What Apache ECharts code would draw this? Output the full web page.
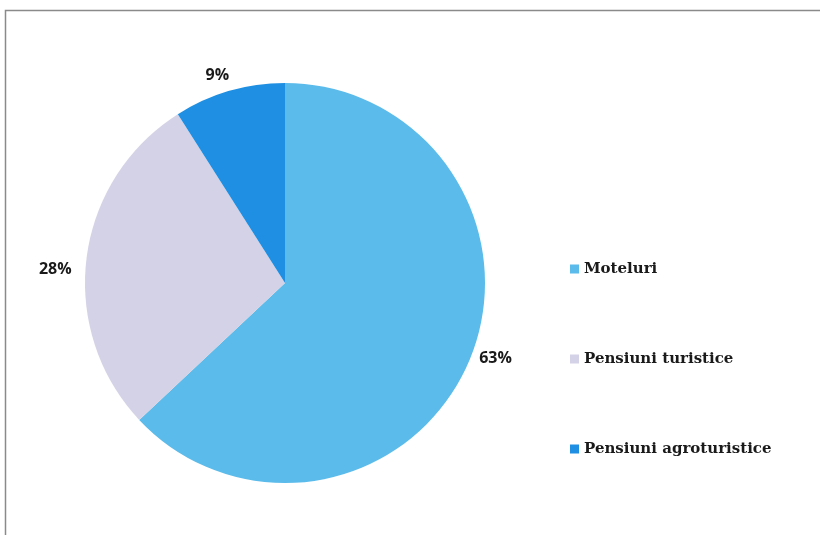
<!DOCTYPE html>
<html><head><meta charset="utf-8">
<script src="https://cdn.jsdelivr.net/npm/echarts@6/dist/echarts.min.js"></script>
<style>html,body{margin:0;padding:0;background:#fff}#c{width:820px;height:535px}</style>
</head><body><div id="c"></div>
<script>
const categories = ['Moteluri', 'Pensiuni turistice', 'Pensiuni agroturistice'];
const values = [63, 28, 9];
const colors = ['#5BBBEA', '#D4D2E6', '#1E8FE2'];
const labelOffsets = [[-2, -6], [-2, 12], [10, -12]];

const chart = echarts.init(document.getElementById('c'));
chart.setOption({
  animation: false,
  backgroundColor: '#fff',
  graphic: [{
    type: 'rect', shape: {x: 5.5, y: 10.5, width: 900, height: 700},
    style: {fill: 'none', stroke: '#8a8a8a', lineWidth: 1.5}, silent: true
  }],
  legend: {
    orient: 'vertical', left: 565, top: 255, itemGap: 72,
    icon: 'rect', itemWidth: 9, itemHeight: 9,
    textStyle: {fontFamily: 'DejaVu Serif', fontWeight: 'bold', fontSize: 15, color: '#1a1a1a', lineHeight: 18},
    data: categories
  },
  series: [{
    type: 'pie', center: [285, 283], radius: 200, startAngle: 90, clockwise: true,
    label: {show: true, position: 'outside', formatter: '{c}%',
      fontFamily: 'Open Sans', fontWeight: 'bold', fontSize: 16, color: '#1a1a1a'},
    labelLine: {show: false, length: 4, length2: 4},
    itemStyle: {borderWidth: 0},
    data: categories.map((n, i) => ({name: n, value: values[i], itemStyle: {color: colors[i]},
      label: {offset: labelOffsets[i]}}))
  }]
});
</script></body></html>
